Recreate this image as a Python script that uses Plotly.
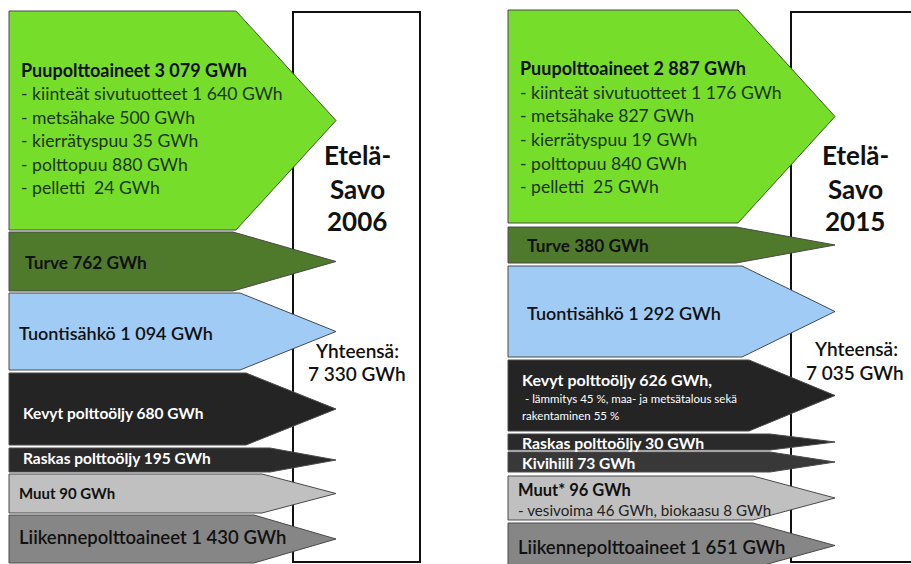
import plotly.graph_objects as go

# ---------------- DATA ----------------
categories_2006 = ["Puupolttoaineet", "Turve", "Tuontisähkö", "Kevyt polttoöljy",
                   "Raskas polttoöljy", "Muut", "Liikennepolttoaineet"]
values_2006 = [3079, 762, 1094, 680, 195, 90, 1430]
total_2006 = 7330

categories_2015 = ["Puupolttoaineet", "Turve", "Tuontisähkö", "Kevyt polttoöljy",
                   "Raskas polttoöljy", "Kivihiili", "Muut*", "Liikennepolttoaineet"]
values_2015 = [2887, 380, 1292, 626, 30, 73, 96, 1651]
total_2015 = 7035

wood_parts = ["kiinteät sivutuotteet", "metsähake", "kierrätyspuu", "polttopuu", "pelletti"]
wood_2006 = [1640, 500, 35, 880, 24]
wood_2015 = [1176, 827, 19, 840, 25]

kevyt_note_2015 = [" - lämmitys 45 %, maa- ja metsätalous sekä", "rakentaminen 55 %"]
muut_parts_2015 = ["vesivoima", "biokaasu"]
muut_values_2015 = [46, 8]

region = ["Etelä-", "Savo"]
years = ["2006", "2015"]
total_label = "Yhteensä:"

# ---------------- LAYOUT / STYLE ----------------
W, H = 911, 564
FONT = "Lato"

colors_2006 = ["#76dd2b", "#4f7a2c", "#9fcbf5", "#242424", "#2a2a2a", "#c0c0c0", "#868686"]
colors_2015 = ["#76dd2b", "#4f7a2c", "#9fcbf5", "#242424", "#2a2a2a", "#383838", "#c0c0c0", "#868686"]

panel_2006 = dict(x0=9, tip=336, box=(293, 12, 420, 562),
                  bands=[(11, 230), (232, 291), (293, 370), (373, 445), (448, 472), (474, 513), (515, 563)],
                  neck=[236, 233, 240, 246, 270, 262, 254])
panel_2015 = dict(x0=508, tip=835, box=(791, 12, 920, 562),
                  bands=[(10, 223), (227, 263), (266, 357), (360, 431), (434, 450), (452, 472), (476, 520), (523, 568)],
                  neck=[738, 736, 742, 749, 770, 770, 753, 753])


def fmt(v):
    return f"{v:,}".replace(",", " ")


fig = go.Figure()


def add_panel(p, colors):
    bx0, by0, bx1, by1 = p["box"]
    fig.add_shape(type="rect", x0=bx0, y0=by0, x1=bx1, y1=by1, layer="below",
                  line=dict(color="#111111", width=2), fillcolor="white")
    for (t, b), n, c in zip(p["bands"], p["neck"], colors):
        mid = (t + b) / 2
        xs = [p["x0"], n, p["tip"], n, p["x0"], p["x0"]]
        ys = [t, t, mid, b, b, t]
        fig.add_trace(go.Scatter(x=xs, y=ys, mode="lines", fill="toself", fillcolor=c,
                                 line=dict(color="#4a4a4a", width=1), hoverinfo="skip",
                                 showlegend=False))


add_panel(panel_2006, colors_2006)
add_panel(panel_2015, colors_2015)


def txt(x, y, s, size, color="#111111", weight=400, anchor="left"):
    fig.add_annotation(x=x - (3 if anchor == "left" else 0), y=y, text=s, showarrow=False,
                       xanchor=anchor, yanchor="middle",
                       font=dict(family=FONT, size=size, color=color, weight=weight))


DARK = "#111111"
GREEN_TXT = "#1d3512"

# ---- 2006 panel texts ----
txt(22, 70, f"{categories_2006[0]} {fmt(values_2006[0])} GWh", 18, DARK, 700)
for i, (nm, v) in enumerate(zip(wood_parts, wood_2006)):
    sep = "  " if nm == "pelletti" else " "
    txt(22, 93.5 + i * 23.5, f"- {nm}{sep}{fmt(v)} GWh", 17.6, GREEN_TXT)
txt(26, 262, f"{categories_2006[1]} {fmt(values_2006[1])} GWh", 17.3, DARK, 700)
txt(20, 333, f"{categories_2006[2]} {fmt(values_2006[2])} GWh", 18, DARK, 600)
txt(24, 413, f"{categories_2006[3]} {fmt(values_2006[3])} GWh", 15.5, "white", 700)
txt(24, 458, f"{categories_2006[4]} {fmt(values_2006[4])} GWh", 15.5, "white", 700)
txt(20, 493, f"{categories_2006[5]} {fmt(values_2006[5])} GWh", 15, DARK, 700)
txt(20, 537, f"{categories_2006[6]} {fmt(values_2006[6])} GWh", 18.5, DARK, 600)

txt(357, 155, region[0], 26, DARK, 700, "center")
txt(357, 189, region[1], 26, DARK, 700, "center")
txt(357, 221, years[0], 26, DARK, 700, "center")
txt(357, 350, total_label, 19, DARK, 600, "center")
txt(357, 373, f"{fmt(total_2006)} GWh", 19, DARK, 600, "center")

# ---- 2015 panel texts ----
txt(521, 68, f"{categories_2015[0]} {fmt(values_2015[0])} GWh", 18, DARK, 700)
for i, (nm, v) in enumerate(zip(wood_parts, wood_2015)):
    sep = "  " if nm == "pelletti" else " "
    txt(521, 92 + i * 23.7, f"- {nm}{sep}{fmt(v)} GWh", 17.6, GREEN_TXT)
txt(528, 245, f"{categories_2015[1]} {fmt(values_2015[1])} GWh", 17.3, DARK, 700)
txt(528, 313, f"{categories_2015[2]} {fmt(values_2015[2])} GWh", 18, DARK, 600)
txt(523, 379, f"{categories_2015[3]} {fmt(values_2015[3])} GWh,", 16, "white", 700)
txt(523, 398, kevyt_note_2015[0], 11.5, "white")
txt(523, 415, kevyt_note_2015[1], 11.5, "white")
txt(523, 442, f"{categories_2015[4]} {fmt(values_2015[4])} GWh", 15.8, "white", 700)
txt(523, 463, f"{categories_2015[5]} {fmt(values_2015[5])} GWh", 15.6, "white", 700)
txt(519, 490, f"{categories_2015[6]} {fmt(values_2015[6])} GWh", 16.5, DARK, 700)
txt(519, 510, "- " + ", ".join(f"{n} {fmt(v)} GWh" for n, v in zip(muut_parts_2015, muut_values_2015)),
    15.2, "#222222")
txt(519, 547, f"{categories_2015[7]} {fmt(values_2015[7])} GWh", 18.5, DARK, 600)

txt(855, 155, region[0], 26, DARK, 700, "center")
txt(855, 189, region[1], 26, DARK, 700, "center")
txt(855, 221, years[1], 26, DARK, 700, "center")
txt(856, 348, total_label, 19, DARK, 600, "center")
txt(855, 372, f"{fmt(total_2015)} GWh", 19, DARK, 600, "center")

fig.update_layout(
    width=W, height=H, margin=dict(l=0, r=0, t=0, b=0),
    paper_bgcolor="white", plot_bgcolor="white",
    xaxis=dict(range=[0, W], visible=False, fixedrange=True),
    yaxis=dict(range=[H, 0], visible=False, fixedrange=True),
    showlegend=False,
)

fig.write_html("out.html")
